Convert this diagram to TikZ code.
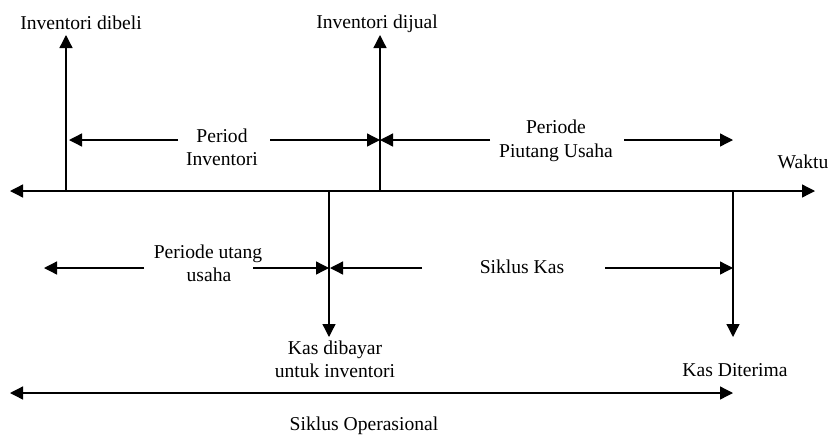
\documentclass[tikz,border=0pt]{standalone}
\usepackage{fontspec}
\setmainfont{Liberation Serif}
\usetikzlibrary{arrows.meta}
\begin{document}
\begin{tikzpicture}[x=1pt,y=-1pt,
  ln/.style={line width=1.3pt,-{Triangle[length=13pt,width=13pt]}},
  dbl/.style={line width=1.3pt,{Triangle[length=13pt,width=13pt]}-{Triangle[length=13pt,width=13pt]}},
  lbl/.style={font=\fontsize{19.6}{23}\selectfont,inner sep=0pt,anchor=base}]
\useasboundingbox (0,0) rectangle (832,437);
% time axis
\coordinate (axL) at (10,191);
\coordinate (axR) at (815,191);
\draw[dbl] (axL) -- (axR);
% event markers
\coordinate (b1) at (66,191);  \coordinate (t1) at (66,35);
\coordinate (b2) at (380,191); \coordinate (t2) at (380,35);
\coordinate (b3) at (329,191); \coordinate (t3) at (329,337);
\coordinate (b4) at (733,191); \coordinate (t4) at (733,337);
\draw[ln] (b1) -- (t1);
\draw[ln] (b2) -- (t2);
\draw[ln] (b3) -- (t3);
\draw[ln] (b4) -- (t4);
% labels
\node[lbl] (beli) at (81,29) {Inventori dibeli};
\node[lbl] (jual) at (377,28) {Inventori dijual};
\node[lbl] (pi1) at (222,142) {Period};
\node[lbl] (pi2) at (222,165) {Inventori};
\node[lbl] (pp1) at (556,133) {Periode};
\node[lbl] (pp2) at (556,157) {Piutang Usaha};
\node[lbl] (waktu) at (803,168) {Waktu};
\node[lbl] (pu1) at (208,258) {Periode utang};
\node[lbl] (pu2) at (209,281) {usaha};
\node[lbl] (kas) at (522,273) {Siklus Kas};
\node[lbl] (kd1) at (335,354) {Kas dibayar};
\node[lbl] (kd2) at (335,377) {untuk inventori};
\node[lbl] (kdt) at (735,376) {Kas Diterima};
\node[lbl] (so) at (364,430) {Siklus Operasional};
% period arrows
\coordinate (piL) at (69,140);  \coordinate (piLg) at (178,140);
\coordinate (piRg) at (270,140); \coordinate (piR) at (380,140);
\draw[ln] (piLg) -- (piL);
\draw[ln] (piRg) -- (piR);
\coordinate (ppL) at (380,140); \coordinate (ppLg) at (490,140);
\coordinate (ppRg) at (624,140); \coordinate (ppR) at (733,140);
\draw[ln] (ppLg) -- (ppL);
\draw[ln] (ppRg) -- (ppR);
\coordinate (puL) at (44,268);  \coordinate (puLg) at (144,268);
\coordinate (puRg) at (253,268); \coordinate (puR) at (329,268);
\draw[ln] (puLg) -- (puL);
\draw[ln] (puRg) -- (puR);
\coordinate (skL) at (330,268); \coordinate (skLg) at (422,268);
\coordinate (skRg) at (605,268); \coordinate (skR) at (733,268);
\draw[ln] (skLg) -- (skL);
\draw[ln] (skRg) -- (skR);
% operating cycle
\coordinate (soL) at (10,393); \coordinate (soR) at (733,393);
\draw[dbl] (soL) -- (soR);
\end{tikzpicture}
\end{document}
